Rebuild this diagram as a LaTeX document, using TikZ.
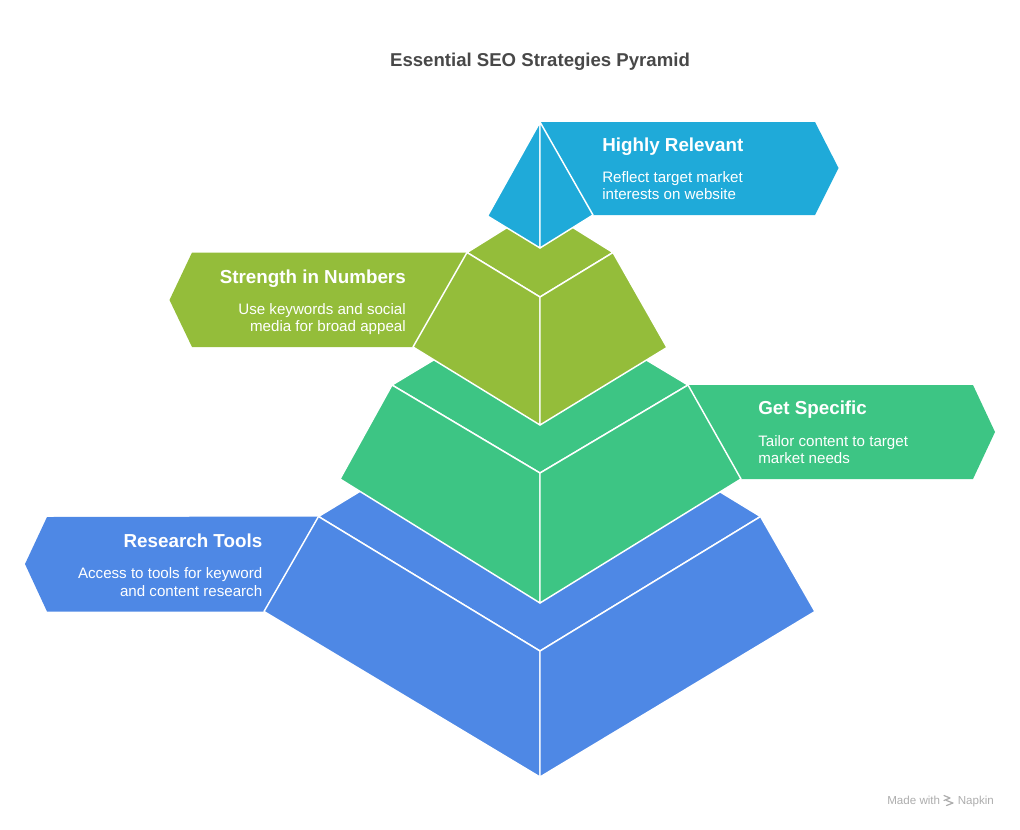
\documentclass[tikz,border=0pt]{standalone}
\usepackage{fontspec}
\setmainfont{Liberation Sans}
\definecolor{cyanT}{HTML}{1FAAD9}
\definecolor{oliveT}{HTML}{94BD3A}
\definecolor{greenT}{HTML}{3DC584}
\definecolor{blueT}{HTML}{4E88E5}
\definecolor{titlegray}{HTML}{484848}
\definecolor{markgray}{HTML}{ADADAD}
\tikzset{
  face/.style={draw=white, line width=1.1pt, line join=round},
  headtxt/.style={inner sep=0pt, text=white, font=\fontsize{14.1pt}{16pt}\selectfont\bfseries},
  bodytxt/.style={inner sep=0pt, text=white, font=\fontsize{11.35pt}{12.75pt}\selectfont},
  titletxt/.style={inner sep=0pt, text=titlegray, font=\fontsize{13.95pt}{16pt}\selectfont\bfseries},
  marktxt/.style={inner sep=0pt, text=markgray, font=\fontsize{8.7pt}{10pt}\selectfont},
}
\begin{document}
\begin{tikzpicture}[x=0.75pt,y=-0.75pt]
\useasboundingbox (0,0) rectangle (1020,829);

% ---------- title ----------
\node[titletxt, anchor=base] (title) at (540,66.7) {Essential SEO Strategies Pyramid};

% ---------- tier 4 (blue) ----------
\coordinate (L4) at (318.5,516.5);
\coordinate (R4) at (760.5,516.5);
\coordinate (K4) at (540,382);
\coordinate (F4) at (540,651);
\coordinate (BL4) at (264,611.5);
\coordinate (BR4) at (815,611.5);
\coordinate (B4) at (540,777);
\fill[blueT] (L4) -- (47,517) -- (25,564) -- (47,611.5) -- (BL4) -- cycle;
\filldraw[face, fill=blueT] (L4) -- (K4) -- (R4) -- (F4) -- cycle;
\filldraw[face, fill=blueT] (L4) -- (F4) -- (B4) -- (BL4) -- cycle;
\filldraw[face, fill=blueT] (F4) -- (R4) -- (BR4) -- (B4) -- cycle;
\node[headtxt, anchor=base east] (rt-h) at (262.5,547) {Research Tools};
\node[bodytxt, anchor=base east] (rt-1) at (262.5,578.5) {Access to tools for keyword};
\node[bodytxt, anchor=base east] (rt-2) at (262.5,596) {and content research};

% ---------- tier 3 (green) ----------
\coordinate (L3) at (392,385);
\coordinate (R3) at (688,385);
\coordinate (K3) at (540,296);
\coordinate (F3) at (540,473);
\coordinate (BL3) at (340,479);
\coordinate (BR3) at (741,479);
\coordinate (B3) at (540,603);
\fill[greenT] (R3) -- (973,385) -- (995,432) -- (973,479) -- (BR3) -- cycle;
\filldraw[face, fill=greenT] (L3) -- (K3) -- (R3) -- (F3) -- cycle;
\filldraw[face, fill=greenT] (L3) -- (F3) -- (B3) -- (BL3) -- cycle;
\filldraw[face, fill=greenT] (F3) -- (R3) -- (BR3) -- (B3) -- cycle;
\node[headtxt, anchor=base west] (gs-h) at (758,414.5) {Get Specific};
\node[bodytxt, anchor=base west] (gs-1) at (758,446) {Tailor content to target};
\node[bodytxt, anchor=base west] (gs-2) at (758,463.5) {market needs};

% ---------- tier 2 (olive) ----------
\coordinate (L2) at (467,252.5);
\coordinate (R2) at (613,252.5);
\coordinate (K2) at (540,207);
\coordinate (F2) at (540,297);
\coordinate (BL2) at (413,347);
\coordinate (BR2) at (667,347.5);
\coordinate (B2) at (540,425);
\fill[oliveT] (L2) -- (192,252.5) -- (169.5,300) -- (192,347) -- (BL2) -- cycle;
\filldraw[face, fill=oliveT] (L2) -- (K2) -- (R2) -- (F2) -- cycle;
\filldraw[face, fill=oliveT] (L2) -- (F2) -- (B2) -- (BL2) -- cycle;
\filldraw[face, fill=oliveT] (F2) -- (R2) -- (BR2) -- (B2) -- cycle;
\node[headtxt, anchor=base east] (sn-h) at (406,283) {Strength in Numbers};
\node[bodytxt, anchor=base east] (sn-1) at (406,314) {Use keywords and social};
\node[bodytxt, anchor=base east] (sn-2) at (406,331) {media for broad appeal};

% ---------- tier 1 (cyan) ----------
\coordinate (A1) at (540,122);
\coordinate (L1) at (487.5,216);
\coordinate (R1) at (593,215);
\coordinate (F1) at (540,248);
\fill[cyanT] (A1) -- (815,122) -- (838.5,168) -- (815,215) -- (R1) -- cycle;
\filldraw[face, fill=cyanT] (A1) -- (L1) -- (F1) -- cycle;
\filldraw[face, fill=cyanT] (A1) -- (F1) -- (R1) -- cycle;
\node[headtxt, anchor=base west] (hr-h) at (602,151) {Highly Relevant};
\node[bodytxt, anchor=base west] (hr-1) at (602,182) {Reflect target market};
\node[bodytxt, anchor=base west] (hr-2) at (602,199.5) {interests on website};

% ---------- watermark ----------
\node[marktxt, anchor=base west] (mw) at (887,804) {Made with};
\node[marktxt, anchor=base west] (np) at (957.5,804) {Napkin};
\draw[markgray, line width=0.9pt, line cap=round, line join=round]
  (944,795.5) -- (950,798) -- (944,800.5);
\draw[markgray, line width=0.9pt, line cap=round, line join=round]
  (946.5,800.5) -- (953,803) -- (946.5,805.5);
\end{tikzpicture}
\end{document}
